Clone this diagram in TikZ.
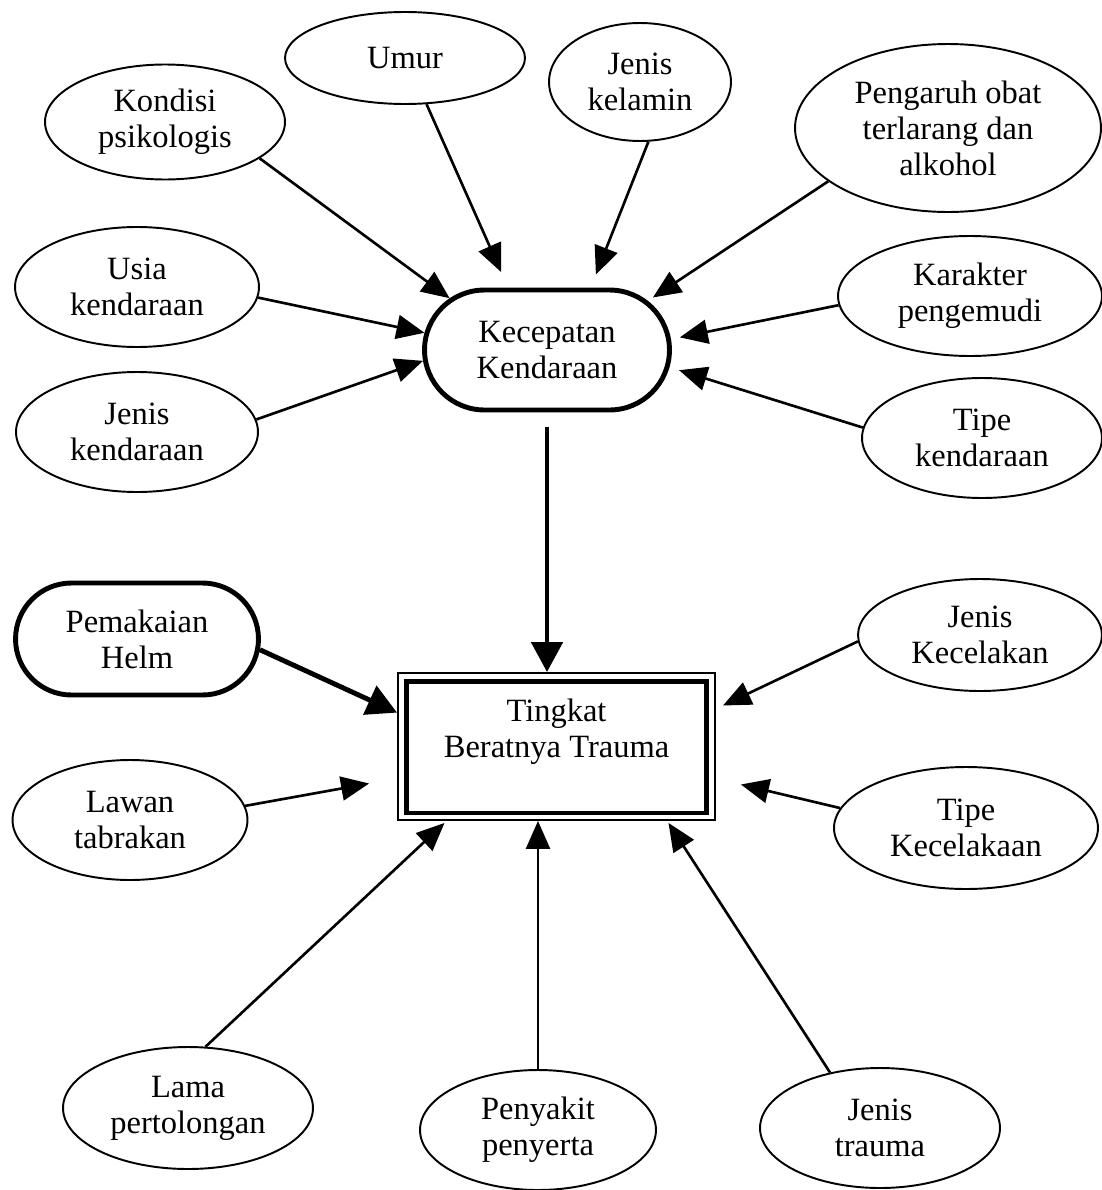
\documentclass[tikz,border=0pt]{standalone}
\usepackage{fontspec}
\setmainfont{Liberation Serif}
\usetikzlibrary{arrows.meta,positioning,calc,shapes.geometric,shapes.misc}

\begin{document}
\begin{tikzpicture}[x=0.02cm,y=-0.02cm,
  faktor/.style={ellipse,draw=black,line width=1.1pt,inner sep=0pt,align=center},
  pokok/.style={rounded rectangle,draw=black,line width=2.8pt,inner sep=0pt,align=center},
  hasil/.style={rectangle,draw=black,line width=1.1pt,inner sep=0pt,align=center},
  panah/.style={-{Triangle[length=0.56cm,width=0.48cm]},line width=1.5pt},
  panahtebal/.style={-{Triangle[length=0.6cm,width=0.62cm]},line width=2.8pt},
  every node/.style={font=\fontsize{18.5}{20.5}\selectfont}]
\useasboundingbox (0,0) rectangle (1102,1190);
% faktor kecepatan
\node[faktor,minimum width=4.8cm,minimum height=2.3cm] (kondisi) at (165,122) {Kondisi\\psikologis};
\node[faktor,minimum width=4.8cm,minimum height=1.84cm] (umur) at (405,58) {Umur};
\node[faktor,minimum width=3.64cm,minimum height=2.36cm] (kelamin) at (640,82) {Jenis\\kelamin};
\node[faktor,minimum width=6.12cm,minimum height=3.36cm] (obat) at (948,128) {Pengaruh obat\\terlarang dan\\alkohol};
\node[faktor,minimum width=4.88cm,minimum height=2.4cm] (usia) at (137,287) {Usia\\kendaraan};
\node[faktor,minimum width=4.84cm,minimum height=2.4cm] (jkend) at (137,432) {Jenis\\kendaraan};
\node[faktor,minimum width=5.28cm,minimum height=2.4cm] (karakter) at (970,296) {Karakter\\pengemudi};
\node[faktor,minimum width=4.8cm,minimum height=2.4cm] (tkend) at (982,438) {Tipe\\kendaraan};
\node[pokok,minimum width=4.9cm,minimum height=2.4cm] (kec) at (547,350) {Kecepatan\\Kendaraan};
% faktor trauma
\node[pokok,minimum width=4.86cm,minimum height=2.24cm] (helm) at (137,639) {Pemakaian\\Helm};
\node[hasil,minimum width=6.34cm,minimum height=2.94cm] (ting) at (556.5,746.5) {Tingkat\\Beratnya Trauma\\\mbox{}};
\draw[line width=2.8pt] ([shift={(9,9)}]ting.north west) rectangle ([shift={(-9,-8)}]ting.south east);
\node[faktor,minimum width=4.88cm,minimum height=2.24cm] (jkec) at (980,635) {Jenis\\Kecelakan};
\node[faktor,minimum width=4.7cm,minimum height=2.4cm] (lawan) at (130,820) {Lawan\\tabrakan};
\node[faktor,minimum width=5.28cm,minimum height=2.44cm] (tkec) at (966,828) {Tipe\\Kecelakaan};
\node[faktor,minimum width=5cm,minimum height=2.44cm] (lama) at (188,1108) {Lama\\pertolongan};
\node[faktor,minimum width=4.72cm,minimum height=2.4cm] (penyakit) at (538,1130) {Penyakit\\penyerta};
\node[faktor,minimum width=4.8cm,minimum height=2.4cm] (jtrauma) at (880,1128) {Jenis\\trauma};
% panah
\draw[panah] (kondisi.-21) -- (kec.152);
\draw[panah,shorten >=0.34cm] (umur.-65) -- (kec.122);
\draw[panah,shorten >=0.28cm] (kelamin.-82) -- (kec.55);
\draw[panah,shorten >=0.12cm] (obat.204) -- (kec.26);
\draw[panah] (usia.-5) -- (kec.172);
\draw[panah] (jkend.6) -- (kec.185);
\draw[panah,shorten >=0.18cm] (karakter.184) -- (kec.5);
\draw[panah,shorten >=0.2cm] (tkend.175) -- (kec.-8);
\draw[panahtebal,shorten <=0.3cm] (kec.south) -- (kec.south |- ting.north);
\draw[panahtebal] (helm.-5) -- (ting.168);
\draw[panah] (lawan.7) -- ($(ting.west)+(-28,37)$);
\draw[panah] (jkec.183) -- ($(ting.east)+(7,-41)$);
\draw[panah] (tkec.171) -- ($(ting.east)+(25,38)$);
\draw[panah] (lama.74) -- ($(ting.south)+(-112,2)$);
\draw[panah] (penyakit.north) -- (penyakit.north |- ting.south);
\draw[panah] (jtrauma.132) -- ($(ting.south)+(112,2)$);
\end{tikzpicture}
\end{document}
